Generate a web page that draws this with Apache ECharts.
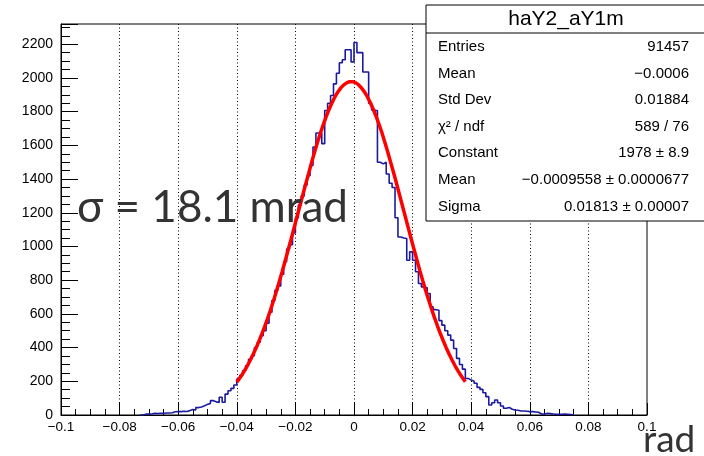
<!DOCTYPE html>
<html>
<head>
<meta charset="utf-8">
<script src="https://cdn.jsdelivr.net/npm/echarts@6/dist/echarts.min.js"></script>
<style>
html,body{margin:0;padding:0;background:#fff;}
#chart{width:704px;height:456px;}
</style>
</head>
<body>
<div id="chart"></div>
<script>
// ---- data ----
const binWidth = 0.001;
const histStart = -0.073; // low edge of first listed bin
const counts = [
  0,5,6,6,10,9,10,10,12,12,
  13,19,20,20,22,21,26,32,30,44,
  48,55,63,68,85,78,75,105,76,124,
  144,158,178,213,236,262,292,330,352,400,
  432,470,500,545,610,680,740,765,835,910,
  985,1010,1080,1170,1245,1300,1365,1420,1480,1590,
  1673,1673,1610,1807,1850,1896,1965,2028,2090,2108,
  2167,2167,2095,2210,2150,2150,2035,2035,1850,1810,
  1805,1500,1490,1500,1430,1375,1350,1170,1056,1050,
  1047,918,968,918,850,780,760,755,721,642,
  625,622,560,533,500,474,444,395,336,300,
  272,217,207,200,188,164,152,132,109,59,
  73,89,73,53,40,45,34,30,28,24,
  24,22,20,20,18,16,6,5,10,8,
  6,4,4,4,5,4,3,0
];
const fitX = [
  -0.0400,-0.0395,-0.0385,-0.0375,-0.0365,-0.0355,-0.0345,-0.0335,-0.0325,-0.0315,
  -0.0305,-0.0295,-0.0285,-0.0275,-0.0265,-0.0255,-0.0245,-0.0235,-0.0225,-0.0215,
  -0.0205,-0.0195,-0.0185,-0.0175,-0.0165,-0.0155,-0.0145,-0.0135,-0.0125,-0.0115,
  -0.0105,-0.0095,-0.0085,-0.0075,-0.0065,-0.0055,-0.0045,-0.0035,-0.0025,-0.0015,
  -0.0005,0.0005,0.0015,0.0025,0.0035,0.0045,0.0055,0.0065,0.0075,0.0085,
  0.0095,0.0105,0.0115,0.0125,0.0135,0.0145,0.0155,0.0165,0.0175,0.0185,
  0.0195,0.0205,0.0215,0.0225,0.0235,0.0245,0.0255,0.0265,0.0275,0.0285,
  0.0295,0.0305,0.0315,0.0325,0.0335,0.0345,0.0355,0.0365,0.0375,0.0380
];
const fitY = [
  195,206,231,259,289,322,357,394,435,479,
  524,572,623,677,733,792,851,914,978,1041,
  1107,1173,1239,1304,1370,1432,1497,1557,1615,1671,
  1722,1770,1814,1853,1888,1917,1941,1959,1971,1978,
  1978,1972,1960,1942,1919,1890,1856,1817,1774,1726,
  1676,1620,1562,1500,1439,1375,1309,1243,1178,1112,
  1046,982,918,855,795,736,681,627,576,528,
  482,439,398,360,325,292,262,234,209,197
];
const statsTitle = 'haY2_aY1m';
const statLabels = ['Entries','Mean','Std Dev','\u03C7\u00B2 / ndf','Constant','Mean','Sigma'];
const statValues = ['91457','\u22120.0006','0.01884','589 / 76','1978 \u00B1 8.9','\u22120.0009558 \u00B1 0.0000677','0.01813 \u00B1 0.00007'];
const annotation = '\u03C3 = 18.1 mrad';
const xUnit = 'rad';

// ---- build ----
const histData = counts.map((c, i) => [+(histStart + i * binWidth).toFixed(4), c]);
histData.push([+(histStart + counts.length * binWidth).toFixed(4), counts[counts.length - 1]]);
const fitData = fitX.map((x, i) => [x, fitY[i]]);

const chart = echarts.init(document.getElementById('chart'), null, {renderer: 'canvas'});

const statsGraphics = [];
const boxX = 426, boxY = 5, boxW = 290, boxH = 216;
statsGraphics.push({type: 'rect', shape: {x: boxX, y: boxY, width: boxW, height: boxH},
  style: {fill: '#fff', stroke: '#000', lineWidth: 1}, z: 100});
statsGraphics.push({type: 'line', shape: {x1: boxX, y1: 33, x2: boxX + boxW, y2: 33},
  style: {stroke: '#000', lineWidth: 1}, z: 101});
statsGraphics.push({type: 'text', z: 101, style: {text: statsTitle, x: 566, y: 19, align: 'center',
  verticalAlign: 'middle', font: '21px "Liberation Sans", Arial, sans-serif', fill: '#000'}});
const rowY = [47, 73.5, 100, 126.5, 153, 180, 206.5];
statLabels.forEach((lab, i) => {
  statsGraphics.push({type: 'text', z: 101, style: {text: lab, x: 438, y: rowY[i], align: 'left',
    verticalAlign: 'middle', font: '15px "Liberation Sans", Arial, sans-serif', fill: '#000'}});
  statsGraphics.push({type: 'text', z: 101, style: {text: statValues[i], x: 689, y: rowY[i], align: 'right',
    verticalAlign: 'middle', font: '15px "Liberation Sans", Arial, sans-serif', fill: '#000'}});
});
statsGraphics.push({type: 'text', z: 110, style: {text: annotation, x: 77, y: 208, align: 'left',
  verticalAlign: 'middle', font: '44px Lato, "Open Sans", sans-serif', fill: '#333'}});
statsGraphics.push({type: 'text', z: 110, style: {text: xUnit, x: 643, y: 440, align: 'left',
  verticalAlign: 'middle', font: '37px Lato, "Open Sans", sans-serif', fill: '#333'}});

const fmtX = v => {
  if (Math.abs(v) < 1e-9) return '0';
  return String(+v.toFixed(3)).replace('-', '\u2212');
};

chart.setOption({
  animation: false,
  backgroundColor: '#fff',
  grid: {left: 61, right: 57, top: 24, bottom: 41, show: true, borderColor: '#000', borderWidth: 1},
  xAxis: {
    type: 'value', min: -0.1, max: 0.1, interval: 0.02,
    axisLine: {onZero: false, lineStyle: {color: '#000', width: 1}},
    axisTick: {inside: true, length: 12, lineStyle: {color: '#000', width: 1}},
    minorTick: {show: true, splitNumber: 4, length: 6, lineStyle: {color: '#000', width: 1}},
    axisLabel: {color: '#000', fontFamily: '"Liberation Sans", Arial, sans-serif', fontSize: 13.5, margin: 5, formatter: fmtX},
    splitLine: {show: true, showMinLine: false, showMaxLine: false, lineStyle: {color: '#000', width: 1, type: [1, 2.5]}}
  },
  yAxis: {
    type: 'value', min: 0, max: 2320, interval: 200,
    axisLine: {show: true, onZero: false, lineStyle: {color: '#000', width: 1}},
    axisTick: {show: true, inside: true, length: 17, lineStyle: {color: '#000', width: 1}},
    minorTick: {show: true, splitNumber: 4, length: 9, lineStyle: {color: '#000', width: 1}},
    axisLabel: {color: '#000', fontFamily: '"Liberation Sans", Arial, sans-serif', fontSize: 14, margin: 8,
      formatter: v => (Math.round(v) % 200 === 0 ? String(Math.round(v)) : '')},
    splitLine: {show: false}
  },
  graphic: statsGraphics,
  series: [
    {type: 'line', step: 'end', data: histData, symbol: 'none', silent: true,
      lineStyle: {color: '#1a1aa0', width: 1.6}, z: 2},
    {type: 'line', data: fitData, symbol: 'none', silent: true, smooth: false,
      lineStyle: {color: '#ff0000', width: 3.5}, z: 3}
  ]
});
</script>
</body>
</html>
